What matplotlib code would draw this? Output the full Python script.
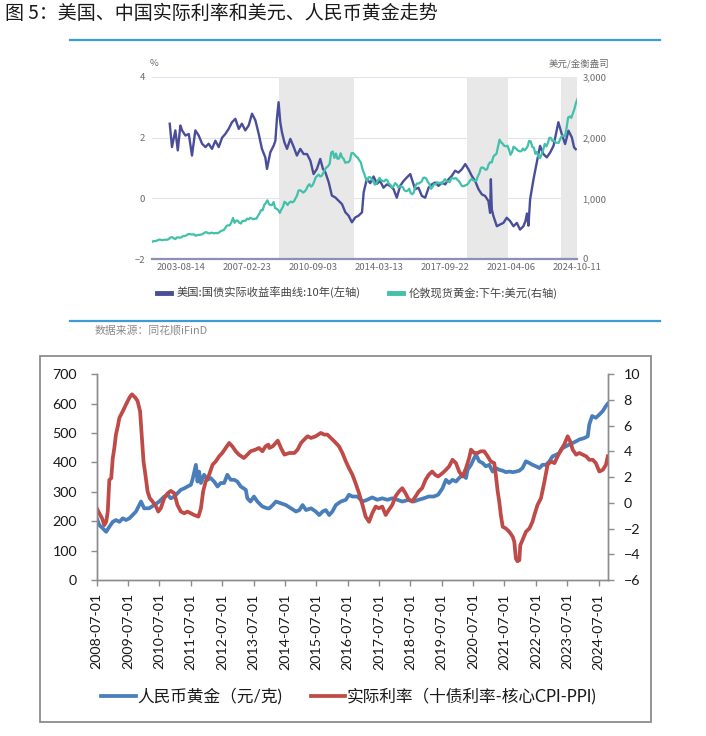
import numpy as np
import pandas as pd
import matplotlib
matplotlib.use('Agg')
import matplotlib.pyplot as plt
from matplotlib.lines import Line2D
from matplotlib.patches import Rectangle

CJK = 'Noto Sans CJK SC'
XLS = ['Lato', 'Noto Sans CJK SC']

# ---------------- 上图：美国实际利率 vs 伦敦金 ----------------
us_years = [2003.00, 2003.12, 2003.30, 2003.43, 2003.57, 2003.66, 2003.84, 2004.02, 2004.19, 2004.37,
            2004.55, 2004.73, 2004.91, 2005.08, 2005.26, 2005.44, 2005.62, 2005.80, 2005.97, 2006.15,
            2006.33, 2006.51, 2006.69, 2006.86, 2007.04, 2007.22, 2007.40, 2007.58, 2007.76, 2007.93,
            2008.11, 2008.20, 2008.38, 2008.56, 2008.65, 2008.73, 2008.82, 2008.91, 2009.00, 2009.13,
            2009.27, 2009.45, 2009.63, 2009.80, 2009.98, 2010.16, 2010.34, 2010.52, 2010.69, 2010.87,
            2011.05, 2011.19, 2011.32, 2011.50, 2011.67, 2011.85, 2012.03, 2012.21, 2012.39, 2012.56,
            2012.74, 2012.92, 2013.10, 2013.28, 2013.37, 2013.54, 2013.72, 2013.90, 2014.08, 2014.25,
            2014.43, 2014.61, 2014.79, 2014.97, 2015.14, 2015.32, 2015.50, 2015.68, 2015.86, 2015.95,
            2016.12, 2016.30, 2016.48, 2016.66, 2016.84, 2017.01, 2017.19, 2017.37, 2017.55, 2017.73,
            2017.91, 2018.08, 2018.26, 2018.44, 2018.62, 2018.80, 2018.97, 2019.15, 2019.33, 2019.51,
            2019.69, 2019.86, 2020.04, 2020.13, 2020.17, 2020.22, 2020.31, 2020.49, 2020.67, 2020.84,
            2021.02, 2021.20, 2021.38, 2021.56, 2021.73, 2021.91, 2022.02, 2022.10, 2022.18, 2022.27,
            2022.45, 2022.54, 2022.63, 2022.80, 2022.98, 2023.16, 2023.34, 2023.52, 2023.69, 2023.78,
            2023.96, 2024.14, 2024.32, 2024.50, 2024.62, 2024.71]
us_real = [2.46, 1.69, 2.24, 1.58, 2.40, 2.24, 2.07, 2.12, 1.41, 2.24,
           2.07, 1.80, 1.69, 1.80, 1.63, 1.90, 1.69, 2.00, 2.12, 2.29,
           2.51, 2.62, 2.29, 2.46, 2.24, 2.40, 2.79, 2.57, 2.12, 1.63,
           1.35, 0.97, 1.52, 1.74, 1.90, 2.62, 3.17, 2.51, 2.18, 1.85,
           1.63, 1.96, 1.69, 1.41, 1.63, 1.46, 1.46, 1.24, 0.80, 0.97,
           1.30, 0.97, 0.86, 0.53, 0.09, 0.03, -0.08, -0.19, -0.46, -0.57,
           -0.79, -0.63, -0.57, -0.46, 0.20, 0.64, 0.50, 0.72, 0.48, 0.57,
           0.35, 0.46, 0.41, 0.30, 0.02, 0.41, 0.57, 0.69, 0.80, 0.63,
           0.30, 0.35, 0.08, 0.02, 0.35, 0.46, 0.52, 0.41, 0.52, 0.46,
           0.63, 0.74, 0.91, 0.85, 0.96, 1.13, 0.96, 0.74, 0.57, 0.30,
           0.13, 0.08, -0.09, -0.48, 0.63, -0.36, -0.59, -0.92, -0.86, -0.81,
           -0.64, -0.75, -0.92, -0.81, -1.03, -0.92, -0.75, -0.50, -0.90, -0.03,
           0.63, 0.91, 1.18, 1.73, 1.46, 1.35, 1.51, 1.73, 2.23, 2.51,
           2.12, 1.79, 2.23, 2.01, 1.68, 1.62]

# 月度金价（美元/盎司），2002-01 起
gold_usd = [282, 295, 294, 302, 314, 321, 313, 310, 319, 317, 319, 333,
            357, 359, 340, 328, 355, 356, 351, 360, 379, 379, 389, 407,
            414, 405, 406, 404, 384, 392, 398, 400, 406, 420, 439, 442,
            424, 423, 434, 429, 422, 430, 424, 438, 456, 470, 476, 510,
            549, 555, 557, 610, 676, 596, 633, 632, 598, 585, 627, 629,
            631, 665, 654, 679, 667, 655, 665, 665, 712, 754, 806, 803,
            889, 922, 968, 909, 888, 889, 939, 839, 829, 806, 760, 816,
            858, 943, 924, 890, 928, 946, 934, 949, 996, 1043, 1127, 1134,
            1118, 1095, 1113, 1148, 1205, 1233, 1193, 1215, 1271, 1343, 1370, 1391,
            1360, 1374, 1424, 1474, 1512, 1529, 1572, 1756, 1772, 1665, 1739, 1652,
            1656, 1743, 1674, 1650, 1585, 1596, 1594, 1626, 1744, 1747, 1721, 1688,
            1671, 1627, 1593, 1487, 1414, 1343, 1286, 1347, 1349, 1316, 1275, 1225,
            1244, 1300, 1336, 1299, 1288, 1279, 1311, 1296, 1239, 1222, 1176, 1201,
            1251, 1227, 1179, 1198, 1199, 1181, 1131, 1117, 1125, 1159, 1086, 1068,
            1097, 1200, 1246, 1242, 1260, 1276, 1337, 1341, 1326, 1266, 1238, 1157,
            1192, 1234, 1231, 1266, 1246, 1260, 1236, 1283, 1315, 1280, 1282, 1265,
            1331, 1331, 1325, 1334, 1303, 1282, 1238, 1202, 1198, 1215, 1221, 1250,
            1291, 1320, 1300, 1285, 1284, 1359, 1413, 1500, 1510, 1495, 1470, 1479,
            1560, 1597, 1591, 1683, 1716, 1732, 1846, 1968, 1922, 1900, 1866, 1858,
            1867, 1808, 1718, 1760, 1850, 1834, 1807, 1785, 1775, 1777, 1821, 1790,
            1817, 1856, 1948, 1937, 1849, 1836, 1733, 1765, 1681, 1664, 1726, 1798,
            1898, 1855, 1913, 2000, 1992, 1943, 1951, 1918, 1916, 1916, 1986, 2027,
            2034, 2023, 2160, 2331, 2351, 2326, 2398, 2470, 2570, 2640]
gold_first_month = '2002-01-20'

shade_spans = [('2008-11-10', '2012-11-12'), ('2018-11-25', '2021-02-03'), ('2023-12-01', '2024-10-11')]
top_ticks = ['2003-08-14', '2007-02-23', '2010-09-03', '2014-03-13', '2017-09-22', '2021-04-06', '2024-10-11']

# ---------------- 下图：人民币黄金 vs 中国实际利率 ----------------
cn_gold_years = [2008.50, 2008.58, 2008.69, 2008.80, 2008.90, 2009.01, 2009.11, 2009.22, 2009.33, 2009.43,
                 2009.54, 2009.64, 2009.75, 2009.91, 2010.01, 2010.17, 2010.33, 2010.49, 2010.65, 2010.76,
                 2010.86, 2010.97, 2011.07, 2011.18, 2011.29, 2011.39, 2011.50, 2011.55, 2011.66, 2011.71,
                 2011.76, 2011.82, 2011.92, 2012.03, 2012.13, 2012.24, 2012.35, 2012.45, 2012.56, 2012.66,
                 2012.77, 2012.88, 2012.98, 2013.09, 2013.25, 2013.30, 2013.40, 2013.51, 2013.62, 2013.78,
                 2013.93, 2014.00, 2014.11, 2014.21, 2014.37, 2014.53, 2014.69, 2014.85, 2014.96, 2015.06,
                 2015.17, 2015.33, 2015.48, 2015.59, 2015.70, 2015.80, 2015.91, 2016.01, 2016.12, 2016.28,
                 2016.44, 2016.54, 2016.65, 2016.81, 2016.97, 2017.12, 2017.28, 2017.44, 2017.60, 2017.76,
                 2017.92, 2018.08, 2018.24, 2018.45, 2018.61, 2018.76, 2018.92, 2019.08, 2019.24, 2019.38,
                 2019.52, 2019.63, 2019.73, 2019.84, 2019.95, 2020.05, 2020.16, 2020.27, 2020.32, 2020.43,
                 2020.53, 2020.59, 2020.69, 2020.80, 2020.90, 2021.01, 2021.12, 2021.22, 2021.33, 2021.44,
                 2021.54, 2021.65, 2021.76, 2021.86, 2021.97, 2022.07, 2022.18, 2022.29, 2022.39, 2022.50,
                 2022.61, 2022.71, 2022.82, 2022.93, 2023.03, 2023.14, 2023.24, 2023.35, 2023.46, 2023.56,
                 2023.67, 2023.78, 2023.88, 2024.04, 2024.15, 2024.20, 2024.29, 2024.41, 2024.52, 2024.63,
                 2024.73, 2024.79]
cn_gold = [210, 187, 176, 164, 181, 198, 204, 198, 210, 204,
           210, 221, 233, 267, 244, 244, 255, 267, 284, 290,
           278, 284, 295, 307, 312, 318, 324, 341, 392, 335,
           369, 330, 358, 341, 347, 335, 318, 330, 330, 358,
           341, 341, 335, 318, 307, 278, 267, 284, 267, 250,
           244, 244, 255, 267, 261, 255, 244, 233, 238, 255,
           238, 244, 233, 221, 233, 238, 221, 233, 255, 267,
           273, 290, 284, 284, 267, 273, 281, 273, 278, 273,
           278, 273, 267, 273, 267, 273, 278, 284, 284, 290,
           312, 341, 330, 341, 335, 347, 358, 347, 375, 392,
           415, 426, 404, 398, 387, 392, 369, 381, 375, 372,
           367, 369, 367, 369, 372, 381, 404, 398, 392, 387,
           381, 392, 392, 404, 421, 426, 432, 449, 455, 461,
           466, 472, 478, 483, 489, 529, 558, 552, 563, 575,
           592, 600]

rate_years = [2008.50, 2008.58, 2008.67, 2008.74, 2008.80, 2008.85, 2008.90, 2008.96, 2009.01, 2009.06,
              2009.11, 2009.17, 2009.22, 2009.33, 2009.43, 2009.54, 2009.62, 2009.73, 2009.80, 2009.88,
              2009.94, 2009.99, 2010.05, 2010.12, 2010.19, 2010.28, 2010.39, 2010.46, 2010.54, 2010.65,
              2010.76, 2010.86, 2010.97, 2011.07, 2011.18, 2011.29, 2011.39, 2011.50, 2011.60, 2011.74,
              2011.82, 2011.89, 2011.97, 2012.08, 2012.19, 2012.29, 2012.40, 2012.50, 2012.61, 2012.72,
              2012.82, 2012.93, 2013.03, 2013.19, 2013.30, 2013.40, 2013.56, 2013.67, 2013.78, 2013.88,
              2013.97, 2014.00, 2014.11, 2014.27, 2014.37, 2014.48, 2014.64, 2014.80, 2014.90, 2015.01,
              2015.11, 2015.22, 2015.33, 2015.48, 2015.64, 2015.75, 2015.85, 2015.96, 2016.07, 2016.22,
              2016.33, 2016.44, 2016.54, 2016.65, 2016.75, 2016.86, 2016.97, 2017.07, 2017.18, 2017.28,
              2017.39, 2017.49, 2017.60, 2017.71, 2017.81, 2017.92, 2018.02, 2018.13, 2018.24, 2018.34,
              2018.45, 2018.55, 2018.66, 2018.76, 2018.87, 2018.98, 2019.08, 2019.19, 2019.29, 2019.38,
              2019.52, 2019.63, 2019.73, 2019.84, 2019.95, 2020.05, 2020.16, 2020.27, 2020.37, 2020.43,
              2020.53, 2020.64, 2020.74, 2020.85, 2020.96, 2021.06, 2021.17, 2021.22, 2021.28, 2021.33,
              2021.38, 2021.44, 2021.54, 2021.65, 2021.76, 2021.81, 2021.86, 2021.91, 2021.97, 2022.00,
              2022.07, 2022.18, 2022.29, 2022.39, 2022.45, 2022.55, 2022.66, 2022.77, 2022.87, 2022.98,
              2023.09, 2023.19, 2023.30, 2023.40, 2023.51, 2023.59, 2023.67, 2023.78, 2023.88, 2023.99,
              2024.10, 2024.20, 2024.31, 2024.41, 2024.52, 2024.63, 2024.73, 2024.79]
cn_rate = [-0.42, -0.81, -1.21, -1.73, -1.47, -0.68, 1.79, 1.92, 3.49, 4.27,
           5.31, 5.96, 6.61, 7.13, 7.65, 8.18, 8.44, 8.18, 7.92, 7.13,
           5.05, 3.22, 2.18, 0.88, 0.36, 0.10, -0.29, -0.68, -0.42, 0.36,
           0.75, 0.93, 0.75, -0.16, -0.68, -0.81, -0.68, -0.81, -0.94, -1.07,
           -0.42, 0.88, 1.66, 2.18, 2.96, 3.22, 3.62, 3.88, 4.27, 4.66,
           4.40, 4.01, 3.75, 3.49, 3.75, 4.01, 4.14, 4.27, 4.01, 4.40,
           4.53, 4.27, 4.40, 4.84, 4.27, 3.75, 3.88, 3.88, 4.14, 4.66,
           4.92, 5.18, 5.05, 5.18, 5.44, 5.31, 5.31, 5.05, 4.79, 4.40,
           3.88, 3.22, 2.70, 2.18, 1.53, 0.75, -0.16, -1.07, -1.47, -0.81,
           -0.29, -0.42, -0.29, -0.94, -0.55, -0.16, 0.49, 0.88, 1.14, 0.75,
           0.23, 0.10, 0.49, 0.88, 1.14, 1.79, 2.18, 2.44, 2.18, 2.05,
           2.31, 2.57, 2.83, 3.35, 3.09, 2.44, 2.05, 2.70, 3.49, 4.14,
           3.88, 3.88, 4.01, 4.01, 3.62, 3.22, 3.09, 2.18, 0.88, 0.10,
           -0.94, -1.86, -1.99, -2.25, -2.64, -3.03, -4.33, -4.54, -4.46, -3.29,
           -2.90, -2.25, -1.99, -1.47, -0.94, -0.16, 0.36, 1.66, 2.96, 3.22,
           3.09, 3.62, 4.14, 4.53, 5.18, 4.79, 4.14, 3.75, 3.88, 3.75,
           3.62, 3.35, 3.35, 3.09, 2.44, 2.57, 2.96, 3.62]

bottom_ticks = ['%d-07-01' % y for y in range(2008, 2025)]
bottom_end = '2024-10-15'


def dec_year(s):
    t = pd.Timestamp(s)
    days = 366 if t.is_leap_year else 365
    return t.year + (t.dayofyear - 1) / days


W, H = 706, 736
fig = plt.figure(figsize=(W / 100, H / 100), dpi=100)

fig.text(5 / W, 1 - 13 / H, '图 5：美国、中国实际利率和美元、人民币黄金走势',
         family=CJK, fontsize=13.7, va='center', ha='left', color='#1a1a1a')
for yy in (40, 321):
    fig.add_artist(Line2D([70 / W, 660 / W], [1 - yy / H] * 2, color='#3d9bd9', lw=1.6))

# ---- top chart ----
axt = fig.add_axes([152 / W, 1 - 259 / H, 425 / W, 182 / H])
axr = axt.twinx()
for a, b in shade_spans:
    axt.axvspan(dec_year(a), dec_year(b), color='#e8e8e8', lw=0, zorder=1)
axt.plot(us_years, us_real, color='#4a4e98', lw=1.7, zorder=3)
gold_x = dec_year(gold_first_month) + np.arange(len(gold_usd)) / 12
axr.plot(gold_x, gold_usd, color='#41c0aa', lw=1.6)

axt.set_xlim(dec_year('2002-01-20'), dec_year('2024-10-11'))
axt.set_ylim(-2, 4)
axr.set_ylim(0, 3000)
axt.set_yticks([-2, 0, 2, 4])
axr.set_yticks([0, 1000, 2000, 3000])
axr.set_yticklabels(['0', '1,000', '2,000', '3,000'])
axt.set_xticks([dec_year(d) for d in top_ticks])
axt.set_xticklabels(top_ticks)
axt.set_axisbelow(True)
axt.grid(axis='y', color='#e3e3ee', lw=0.8)
for a in (axt, axr):
    for s in a.spines.values():
        s.set_visible(False)
    a.tick_params(length=0, labelsize=6.8, labelcolor='#6b6b6b')
    for lab in a.get_xticklabels() + a.get_yticklabels():
        lab.set_family(CJK)
axt.spines['bottom'].set_visible(True)
axt.spines['bottom'].set_color('#8c90b6')
axt.spines['bottom'].set_linewidth(1.6)
axt.tick_params(axis='y', pad=5)
axt.tick_params(axis='x', pad=3)
axr.tick_params(axis='y', pad=4)

fig.text(150 / W, 1 - 64 / H, '%', family=CJK, fontsize=6.8, color='#6b6b6b', va='center')
fig.text(609 / W, 1 - 64 / H, '美元/金衡盎司', family=CJK, fontsize=6.8, color='#6b6b6b',
         va='center', ha='right')

top_handles = [Line2D([], [], color='#4a4e98', lw=3.5), Line2D([], [], color='#41c0aa', lw=3.5)]
fig.legend(top_handles, ['美国:国债实际收益率曲线:10年(左轴)', '伦敦现货黄金:下午:美元(右轴)'],
           loc='center', bbox_to_anchor=(357 / W, 1 - 293 / H), ncol=2, frameon=False,
           prop={'family': CJK, 'size': 8.1}, handlelength=1.25, handletextpad=0.5,
           columnspacing=2.5, labelcolor='#444444')

fig.text(95 / W, 1 - 330 / H, '数据来源：同花顺iFinD', family=CJK, fontsize=7.8,
         color='#8a8a8a', va='center')

# ---- bottom chart ----
fig.add_artist(Rectangle((39.5 / W, 1 - 722 / H), 611.5 / W, 366.3 / H,
                         transform=fig.transFigure, fill=False, edgecolor='#8c8c8c', lw=1.3))
axb = fig.add_axes([96.7 / W, 1 - 580 / H, 511 / W, 205.7 / H])
axb2 = axb.twinx()
axb.plot(cn_gold_years, cn_gold, color='#4a7ebb', lw=2.7, solid_joinstyle='round')
axb2.plot(rate_years, cn_rate, color='#be4b48', lw=2.7, solid_joinstyle='round')

axb.set_xlim(dec_year(bottom_ticks[0]), dec_year(bottom_end))
axb.set_ylim(0, 700)
axb2.set_ylim(-6, 10)
axb.set_yticks(range(0, 701, 100))
axb2.set_yticks(range(-6, 11, 2))
axb.set_xticks([dec_year(d) for d in bottom_ticks])
axb.set_xticklabels(bottom_ticks, rotation=90)
for a in (axb, axb2):
    a.spines['top'].set_visible(False)
    for s in ('left', 'right', 'bottom'):
        a.spines[s].set_color('#8c8c8c')
        a.spines[s].set_linewidth(1.0)
    a.tick_params(direction='out', length=4.5, width=1.0, color='#8c8c8c',
                  labelsize=10.3, labelcolor='#1a1a1a')
    for lab in a.get_xticklabels() + a.get_yticklabels():
        lab.set_family(XLS)
axb.tick_params(axis='y', pad=9.6)
axb.tick_params(axis='x', pad=5)
axb2.tick_params(axis='y', pad=7)

bottom_handles = [Line2D([], [], color='#4a7ebb', lw=2.7), Line2D([], [], color='#be4b48', lw=2.7)]
fig.legend(bottom_handles, ['人民币黄金（元/克)', '实际利率（十债利率-核心CPI-PPI)'],
           loc='center', bbox_to_anchor=(349 / W, 1 - 696 / H), ncol=2, frameon=False,
           prop={'family': XLS, 'size': 12}, handlelength=2.05, handletextpad=0.12,
           columnspacing=1.7, labelcolor='#1a1a1a')

fig.savefig('out.png', dpi=100)
